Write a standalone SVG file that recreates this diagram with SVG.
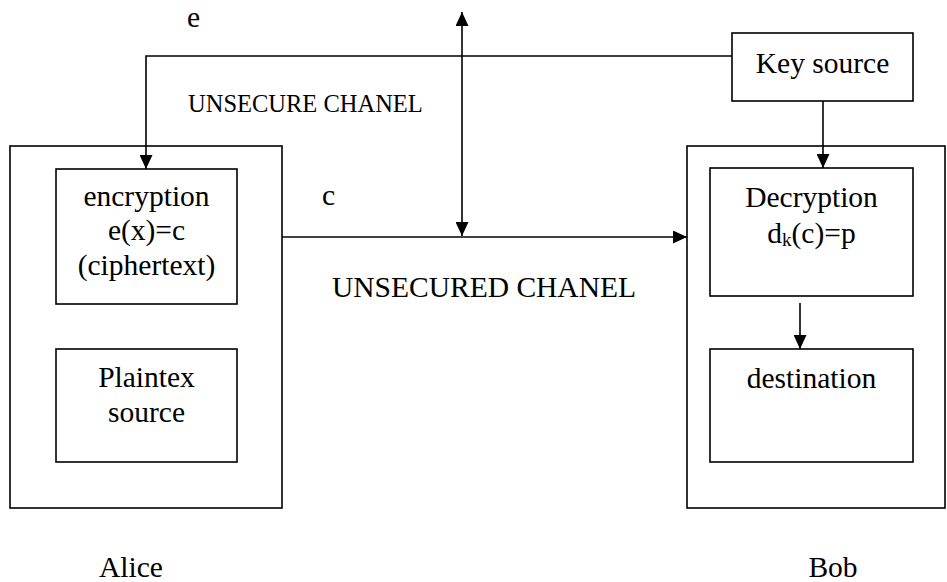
<svg xmlns="http://www.w3.org/2000/svg" width="947" height="582" viewBox="0 0 947 582">
  <style>
    .box { fill: none; stroke: #000; stroke-width: 1.6; }
    .wire { fill: none; stroke: #000; stroke-width: 1.6; }
    .t { font-family: "Liberation Serif", "DejaVu Serif", serif; font-size: 29.5px; fill: #000; }
    .c { text-anchor: middle; }
    .small { font-size: 24.5px; }
  </style>
  <defs>
    <marker id="arrow" markerUnits="userSpaceOnUse" markerWidth="14" markerHeight="13" refX="14" refY="6.5" orient="auto-start-reverse">
      <path d="M0,0 L14,6.5 L0,13 Z" fill="#000"/>
    </marker>
  </defs>

  <rect width="947" height="582" fill="#fff"/>

  <!-- Alice -->
  <g id="alice">
    <rect class="box" x="10" y="146" width="272" height="362"/>
    <text class="t c" x="131" y="577">Alice</text>
  </g>
  <g id="encryption">
    <rect class="box" x="56" y="169" width="181" height="135"/>
    <text class="t c" x="146.5" y="206">encryption</text>
    <text class="t c" x="146.5" y="240">e(x)=c</text>
    <text class="t c" x="146.5" y="275">(ciphertext)</text>
  </g>
  <g id="plaintext-source">
    <rect class="box" x="56" y="349" width="181" height="113"/>
    <text class="t c" x="146.5" y="387">Plaintex</text>
    <text class="t c" x="146.5" y="422">source</text>
  </g>

  <!-- Bob -->
  <g id="bob">
    <rect class="box" x="687" y="146" width="258" height="362"/>
    <text class="t c" x="833" y="577">Bob</text>
  </g>
  <g id="decryption">
    <rect class="box" x="710" y="168" width="203" height="128"/>
    <text class="t c" x="811.5" y="207">Decryption</text>
    <text class="t c" x="811.5" y="243">d<tspan font-size="19" dy="3">k</tspan><tspan dy="-3">(c)=p</tspan></text>
  </g>
  <g id="destination">
    <rect class="box" x="710" y="349" width="203" height="113"/>
    <text class="t c" x="811.5" y="388">destination</text>
  </g>

  <!-- Key source -->
  <g id="key-source">
    <rect class="box" x="732" y="33" width="181" height="68"/>
    <text class="t c" x="822.5" y="73">Key source</text>
  </g>

  <!-- Connectors -->
  <g id="connectors">
    <path class="wire" d="M732,56 L146,56 L146,169" marker-end="url(#arrow)"/>
    <path class="wire" d="M823,101 L823,168" marker-end="url(#arrow)"/>
    <path class="wire" d="M800,303 L800,349" marker-end="url(#arrow)"/>
    <path class="wire" d="M282,237 L687,237" marker-end="url(#arrow)"/>
    <path class="wire" d="M462,12 L462,236" marker-start="url(#arrow)" marker-end="url(#arrow)"/>
  </g>

  <!-- Labels -->
  <g id="labels">
    <text class="t" x="187" y="26.5">e</text>
    <text class="t small" x="188" y="112">UNSECURE CHANEL</text>
    <text class="t" x="322" y="205">c</text>
    <text class="t" x="332" y="297">UNSECURED CHANEL</text>
  </g>
</svg>
